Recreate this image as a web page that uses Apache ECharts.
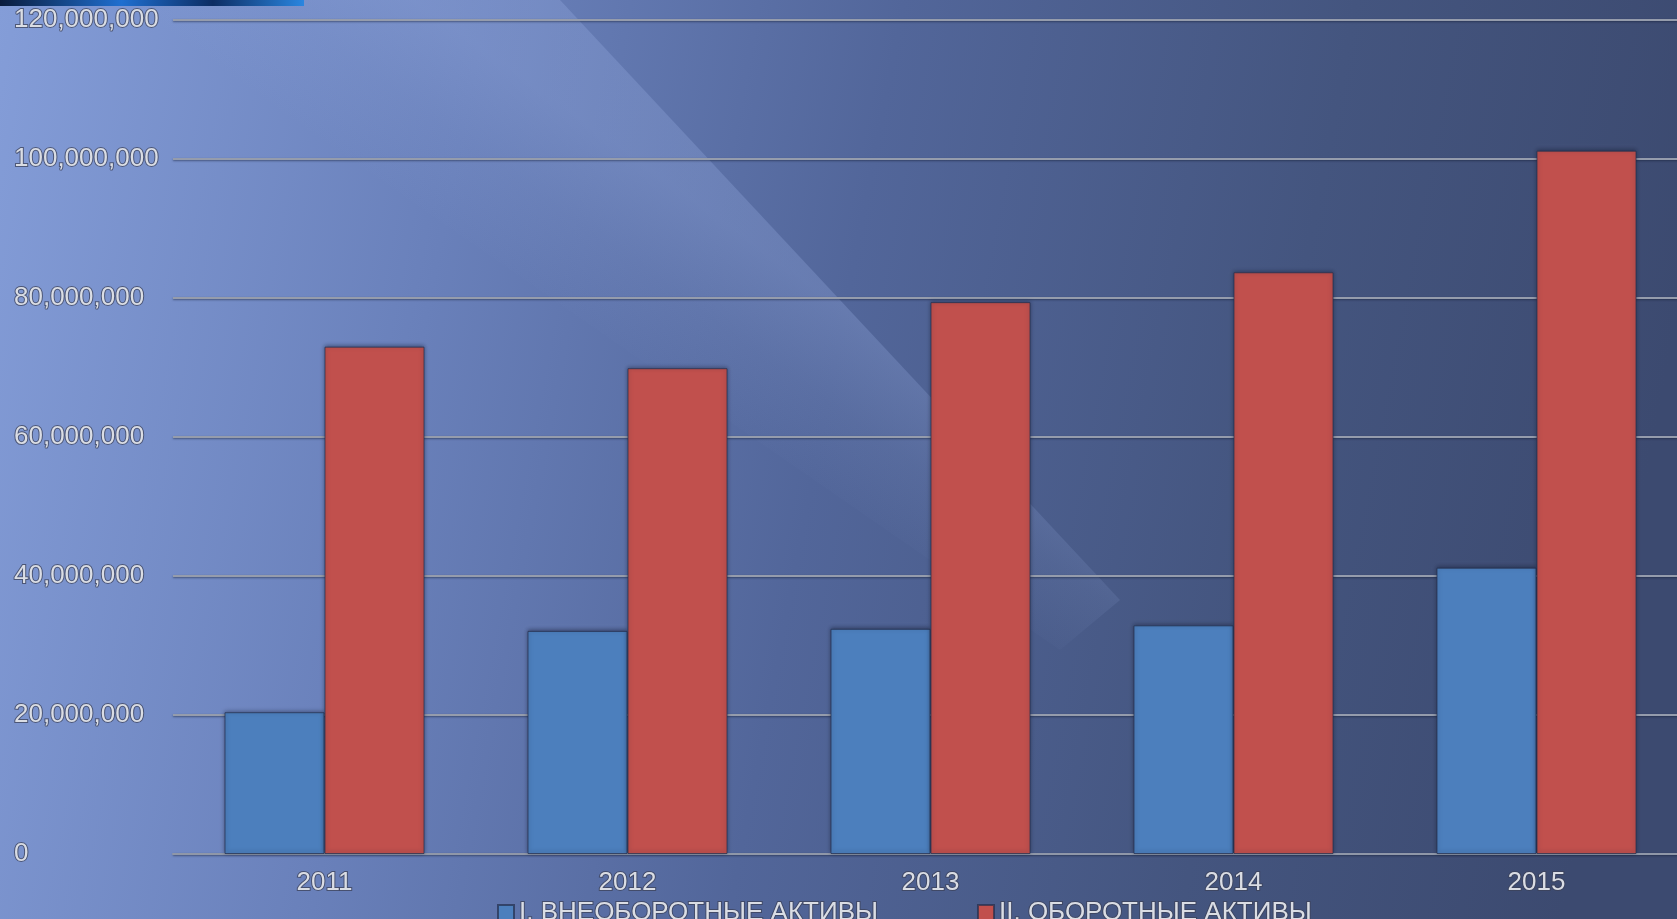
<!DOCTYPE html>
<html>
<head>
<meta charset="utf-8">
<script src="https://cdn.jsdelivr.net/npm/echarts@6/dist/echarts.min.js"></script>
<style>
    html, body { margin: 0; padding: 0; }
    #main { width: 1677px; height: 919px; }
</style>
</head>
<body>
<div id="main"></div>
<script>
    // данные баланса по годам
    var years = ['2011', '2012', '2013', '2014', '2015'];
    var nonCurrent = [20400000, 32100000, 32400000, 32900000, 41200000];
    var current = [73000000, 69900000, 79400000, 83700000, 101200000];
    var seriesNames = ['I. ВНЕОБОРОТНЫЕ АКТИВЫ', 'II. ОБОРОТНЫЕ АКТИВЫ'];

    var labelStyle = {
        fontFamily: 'Liberation Sans, Arial, sans-serif',
        fontSize: 26,
        color: '#dadde4',
        textBorderColor: 'rgba(60,66,88,0.75)',
        textBorderWidth: 2
    };

    var myChart = echarts.init(document.getElementById('main'));

    var option = {
        backgroundColor: {
            type: 'linear', x: 0, y: 0, x2: 1, y2: 0.35,
            colorStops: [
                {offset: 0, color: '#849dd8'},
                {offset: 0.28, color: '#6980ba'},
                {offset: 0.52, color: '#52669a'},
                {offset: 0.78, color: '#44557f'},
                {offset: 1, color: '#3c4a70'}
            ]
        },
        graphic: [
            {
                // светлая диагональная полоса фона
                type: 'polygon', z: -10, silent: true,
                shape: {points: [[120, 0], [560, 0], [1120, 600], [1060, 650]]},
                style: {
                    fill: {
                        type: 'linear', x: 860, y: 320, x2: 760, y2: 459, global: true,
                        colorStops: [
                            {offset: 0, color: 'rgba(160,182,235,0.26)'},
                            {offset: 0.5, color: 'rgba(160,182,235,0.1)'},
                            {offset: 1, color: 'rgba(160,182,235,0)'}
                        ]
                    }
                }
            },
            {
                type: 'rect', z: -9, silent: true,
                shape: {x: 0, y: 0, width: 304, height: 6},
                style: {
                    fill: {
                        type: 'linear', x: 0, y: 0, x2: 1, y2: 0,
                        colorStops: [
                            {offset: 0, color: '#0b1c3c'},
                            {offset: 0.4, color: '#1f6fd0'},
                            {offset: 0.7, color: '#0d2d63'},
                            {offset: 1, color: '#2a86e0'}
                        ]
                    }
                }
            }
        ],
        grid: {left: 173, width: 1515, top: 20, bottom: 65, outerBoundsMode: 'none'},
        legend: {
            left: 492, top: 894,
            icon: 'rect',
            itemWidth: 16, itemHeight: 16,
            itemGap: 98,
            textStyle: labelStyle,
            data: seriesNames
        },
        xAxis: {
            type: 'category',
            data: years,
            axisTick: {show: false},
            axisLine: {lineStyle: {color: '#8f97a8', width: 2}},
            axisLabel: Object.assign({margin: 16}, labelStyle)
        },
        yAxis: {
            type: 'value',
            min: 0, max: 120000000, interval: 20000000,
            axisLine: {show: false},
            axisTick: {show: false},
            axisLabel: Object.assign({
                margin: 159,
                align: 'left',
                formatter: function (v) { return v.toLocaleString('en-US'); }
            }, labelStyle),
            splitLine: {
                lineStyle: {
                    color: '#959cac', width: 2,
                    shadowColor: 'rgba(20,28,50,0.5)', shadowBlur: 2, shadowOffsetY: 1
                }
            }
        },
        series: [
            {
                name: seriesNames[0],
                type: 'bar',
                barWidth: 100,
                barGap: '0%',
                itemStyle: {
                    color: '#4c7fbd',
                    borderColor: 'rgba(35,45,75,0.7)', borderWidth: 1,
                    shadowColor: 'rgba(20,28,50,0.5)', shadowBlur: 4, shadowOffsetY: -1
                },
                data: nonCurrent
            },
            {
                name: seriesNames[1],
                type: 'bar',
                barWidth: 100,
                itemStyle: {
                    color: '#c1504d',
                    borderColor: 'rgba(35,45,75,0.7)', borderWidth: 1,
                    shadowColor: 'rgba(20,28,50,0.5)', shadowBlur: 4, shadowOffsetY: -1
                },
                data: current
            }
        ]
    };

    myChart.setOption(option);
</script>
</body>
</html>
